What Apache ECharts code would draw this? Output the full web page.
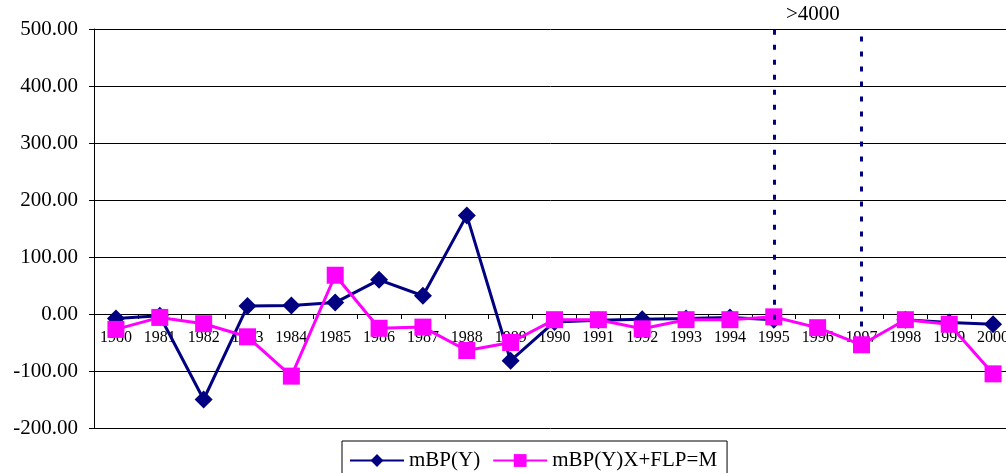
<!DOCTYPE html>
<html>
<head>
<meta charset="utf-8">
<title>mBP(Y)</title>
<script src="https://cdn.jsdelivr.net/npm/echarts@6/dist/echarts.min.js"></script>
<style>
  html, body { margin: 0; padding: 0; background: #fff; }
  #chart { width: 1006px; height: 473px; }
</style>
</head>
<body>
<div id="chart"></div>
<script>
// Years on the category axis
const years = ['1980','1981','1982','1983','1984','1985','1986','1987','1988','1989','1990',
               '1991','1992','1993','1994','1995','1996','1997','1998','1999','2000'];

// mBP(Y): 1996 and 1997 lie far above the axis (>4000), so they are left as gaps
const mbp = [-8, -3, -150, 14, 15, 20, 60, 32, 173, -82, -14,
             -11, -9, -8, -6, -10, null, null, -10, -15, -18];

// mBP(Y)X+FLP=M
const mbpFlp = [-27, -6, -17, -40, -109, 68, -25, -23, -64, -50, -10,
                -10, -26, -10, -10, -5, -24, -54, -10, -18, -105];

// Value-axis tick labels
const yTicks = [-200, -100, 0, 100, 200, 300, 400, 500];

// Vertical dashed markers for the off-scale stretch and their lower ends
const breakYears = ['1995', '1997'];
const breakLow = [-10, -22];
const breakNote = '>4000';

const serif = '"Liberation Serif", "DejaVu Serif", serif';
const navy = '#000080';
const magenta = '#FF00FF';

const yMin = yTicks[0];
const yMax = yTicks[yTicks.length - 1];

const gridTop = 29;
const gridBottom = 45;
const plotHeight = 473 - gridTop - gridBottom;
// the category axis sits on the zero line, so shift it up from the grid bottom
const zeroShift = plotHeight * (0 - yMin) / (yMax - yMin);

const chart = echarts.init(document.getElementById('chart'), null, { renderer: 'canvas' });

chart.setOption({
  animation: false,
  backgroundColor: '#fff',
  // the plot area runs a little past the right edge of the page
  grid: {
    left: 94, top: gridTop, width: 921, bottom: gridBottom,
    containLabel: false, outerBoundsMode: 'none'
  },
  xAxis: {
    type: 'category',
    data: years,
    position: 'bottom',
    offset: -zeroShift,
    boundaryGap: true,
    axisLine: { show: true, onZero: false, lineStyle: { color: '#000', width: 1 } },
    axisTick: { show: true, interval: 0, length: 5, inside: false, lineStyle: { color: '#000' } },
    axisLabel: { interval: 0, margin: 16, color: '#000', fontFamily: serif, fontSize: 16 },
    splitLine: { show: false }
  },
  yAxis: {
    type: 'value',
    min: yMin,
    max: yMax,
    interval: yTicks[1] - yTicks[0],
    axisLine: { show: true, lineStyle: { color: '#000', width: 1 } },
    axisTick: { show: true, length: 5, inside: false, lineStyle: { color: '#000' } },
    axisLabel: {
      margin: 16, color: '#000', fontFamily: serif, fontSize: 21,
      formatter: v => v.toFixed(2)
    },
    splitLine: { show: true, lineStyle: { color: '#000', width: 1 } }
  },
  legend: {
    left: 342,
    top: 441,
    orient: 'horizontal',
    padding: [9, 10, 12, 7],
    borderColor: '#000',
    borderWidth: 1,
    itemWidth: 54,
    itemHeight: 16,
    itemGap: 12,
    textStyle: { color: '#000', fontFamily: serif, fontSize: 21 },
    data: ['mBP(Y)', 'mBP(Y)X+FLP=M']
  },
  graphic: [{
    type: 'text',
    left: 786,
    top: 4,
    style: { text: breakNote, fill: '#000', font: '21px ' + serif }
  }],
  series: [
    {
      name: 'mBP(Y)',
      type: 'line',
      data: mbp,
      connectNulls: false,
      symbol: 'diamond',
      symbolSize: 18,
      showAllSymbol: true,
      lineStyle: { color: navy, width: 3 },
      itemStyle: { color: navy },
      z: 2,
      markLine: {
        silent: true,
        symbol: ['none', 'none'],
        label: { show: false },
        lineStyle: { color: navy, width: 3, type: [5, 10] },
        data: breakYears.map((yr, i) => [
          { coord: [yr, breakLow[i]] },
          { coord: [yr, yMax] }
        ])
      }
    },
    {
      name: 'mBP(Y)X+FLP=M',
      type: 'line',
      data: mbpFlp,
      symbol: 'rect',
      symbolSize: 17,
      showAllSymbol: true,
      lineStyle: { color: magenta, width: 3 },
      itemStyle: { color: magenta },
      z: 3
    }
  ]
});
</script>
</body>
</html>
